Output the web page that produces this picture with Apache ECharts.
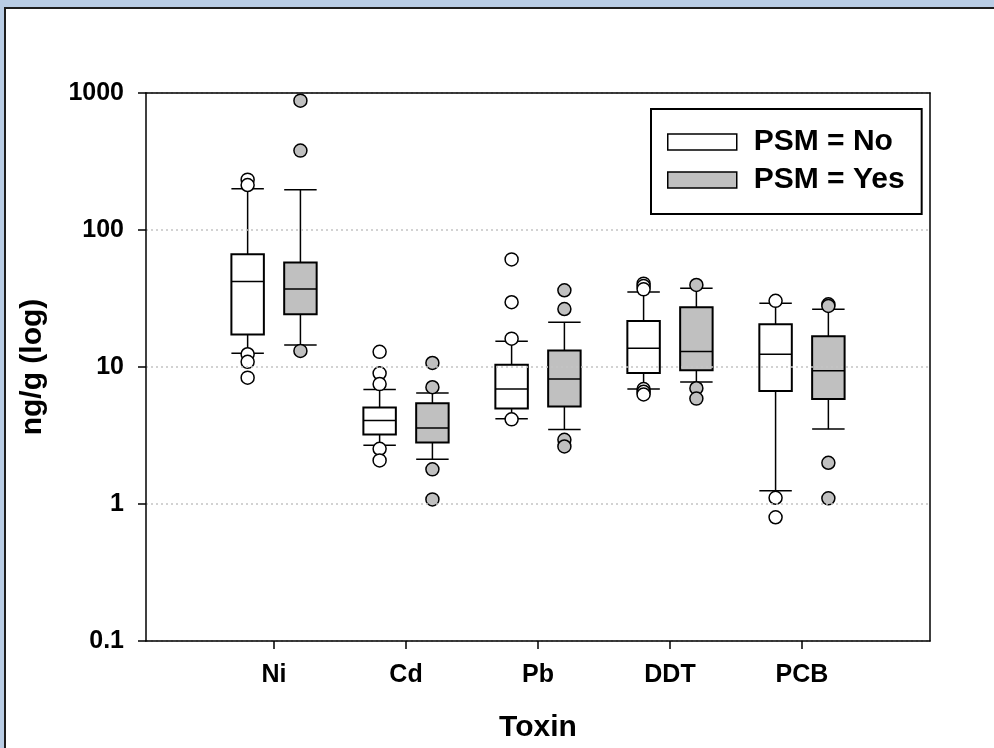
<!DOCTYPE html>
<html>
<head>
<meta charset="utf-8">
<title>Toxin box plot</title>
<script src="https://cdn.jsdelivr.net/npm/echarts@6/dist/echarts.min.js"></script>
<style>
  html, body { margin: 0; padding: 0; background: #b9cde5; overflow: hidden; }
  .frame {
    position: absolute; left: 4px; top: 7px; width: 1000px; height: 760px;
    background: #fff; border-top: 2px solid #1e1e1e; border-left: 2px solid #1e1e1e;
  }
  #chart { position: absolute; left: 0; top: 0; width: 994px; height: 748px; }
</style>
</head>
<body>
<div class="frame"></div>
<div id="chart"></div>
<script>
// categories on the x axis
var categories = ["Ni", "Cd", "Pb", "DDT", "PCB"];
var seriesNames = ["PSM = No", "PSM = Yes"];
var yTicks = [0.1, 1, 10, 100, 1000];

// box stats per toxin: [lower whisker, Q1, median, Q3, upper whisker]
var boxNo = [
  [12.6, 17.3, 42.0, 66.4, 200],
  [2.68, 3.22, 4.07, 5.06, 6.84],
  [4.19, 4.97, 6.92, 10.4, 15.4],
  [6.92, 9.04, 13.7, 21.7, 35.3],
  [1.25, 6.69, 12.4, 20.5, 29.2]
];
var boxYes = [
  [14.5, 24.3, 37.1, 58.0, 197],
  [2.12, 2.81, 3.58, 5.44, 6.47],
  [3.50, 5.14, 8.18, 13.2, 21.2],
  [7.78, 9.46, 13.0, 27.3, 37.5],
  [3.52, 5.85, 9.40, 16.8, 26.4]
];

// outlying points per toxin
var outliersNo = [
  [233, 213, 12.4, 10.9, 8.36],
  [12.9, 9.0, 7.5, 2.53, 2.08],
  [61.0, 29.7, 16.1, 4.15],
  [40.6, 39.0, 36.9, 6.9, 6.6, 6.3],
  [30.4, 1.11, 0.80]
];
var outliersYes = [
  [879, 380, 13.1],
  [10.7, 7.12, 1.79, 1.08],
  [36.3, 26.5, 2.94, 2.63],
  [39.7, 7.0, 5.88],
  [28.7, 27.9, 2.00, 1.10]
];

var FONT = "'Liberation Sans', Arial, sans-serif";
var OFFSET = 0.2;   // half distance between the two boxes, in category units
var HALF = 0.123;   // half box width, in category units
var X_MIN = 0.03, X_MAX = 5.97;

function boxData(stats) {
  return stats.map(function (s, i) { return [i + 1].concat(s); });
}
function pointData(list, shift) {
  var out = [];
  list.forEach(function (vals, i) {
    vals.forEach(function (v) { out.push([i + 1 + shift, v]); });
  });
  return out;
}

function boxRenderer(shift, fill) {
  return function (params, api) {
    var x = api.value(0) + shift;
    var lo = api.coord([x, api.value(1)]);
    var q1 = api.coord([x, api.value(2)]);
    var md = api.coord([x, api.value(3)]);
    var q3 = api.coord([x, api.value(4)]);
    var hi = api.coord([x, api.value(5)]);
    var left = api.coord([x - HALF, api.value(3)])[0];
    var right = api.coord([x + HALF, api.value(3)])[0];
    var thin = { stroke: "#000", lineWidth: 1.5 };
    return {
      type: "group",
      children: [
        { type: "line", shape: { x1: lo[0], y1: lo[1], x2: q1[0], y2: q1[1] }, style: thin },
        { type: "line", shape: { x1: q3[0], y1: q3[1], x2: hi[0], y2: hi[1] }, style: thin },
        { type: "line", shape: { x1: left, y1: lo[1], x2: right, y2: lo[1] }, style: thin },
        { type: "line", shape: { x1: left, y1: hi[1], x2: right, y2: hi[1] }, style: thin },
        {
          type: "rect",
          shape: { x: left, y: q3[1], width: right - left, height: q1[1] - q3[1] },
          style: { fill: fill, stroke: "#000", lineWidth: 2 }
        },
        { type: "line", shape: { x1: left, y1: md[1], x2: right, y2: md[1] }, style: thin }
      ]
    };
  };
}

var axisText = { fontFamily: FONT, fontWeight: "bold", color: "#000" };

var chart = echarts.init(document.getElementById("chart"));
chart.setOption({
  animation: false,
  backgroundColor: "transparent",
  textStyle: axisText,
  grid: { left: 146, right: 64, top: 93, bottom: 105 },
  legend: {
    orient: "vertical",
    left: 651,
    top: 109,
    padding: [18, 17, 19, 16],
    itemGap: 8,
    itemWidth: 69,
    itemHeight: 16,
    borderColor: "#000",
    borderWidth: 2,
    selectedMode: false,
    textStyle: {
      fontFamily: FONT, fontWeight: "bold", fontSize: 30, color: "#000",
      lineHeight: 30, padding: [0, 0, 0, 12]
    },
    data: [
      { name: seriesNames[0], icon: "rect", itemStyle: { color: "#fff", borderColor: "#000", borderWidth: 1.5 } },
      { name: seriesNames[1], icon: "rect", itemStyle: { color: "#c0c0c0", borderColor: "#000", borderWidth: 1.5 } }
    ]
  },
  xAxis: [
    {
      type: "value",
      min: X_MIN,
      max: X_MAX,
      z: 5,
      name: "Toxin",
      nameLocation: "middle",
      nameGap: 72,
      nameTextStyle: { fontFamily: FONT, fontWeight: "bold", fontSize: 30, color: "#000" },
      splitLine: { show: false },
      axisLine: { lineStyle: { color: "#000", width: 1.5 } },
      axisTick: { customValues: [1, 2, 3, 4, 5], length: 8, lineStyle: { color: "#000", width: 1.5 } },
      axisLabel: {
        customValues: [1, 2, 3, 4, 5],
        margin: 22,
        fontFamily: FONT, fontWeight: "bold", fontSize: 25, color: "#000",
        formatter: function (v) { return categories[Math.round(v) - 1] || ""; }
      }
    },
    {
      // top border of the frame
      type: "value",
      position: "top",
      min: X_MIN,
      max: X_MAX,
      z: 5,
      axisLine: { show: true, onZero: false, lineStyle: { color: "#000", width: 1.5 } },
      axisTick: { show: false },
      axisLabel: { show: false },
      splitLine: { show: false }
    }
  ],
  yAxis: [
    {
      type: "log",
      logBase: 10,
      min: yTicks[0],
      max: yTicks[yTicks.length - 1],
      z: 5,
      name: "ng/g (log)",
      nameLocation: "middle",
      nameGap: 98,
      nameTextStyle: { fontFamily: FONT, fontWeight: "bold", fontSize: 30, color: "#000" },
      axisLine: { show: true, lineStyle: { color: "#000", width: 1.5 } },
      axisTick: { show: true, length: 8, lineStyle: { color: "#000", width: 1.5 } },
      minorTick: { show: false },
      splitLine: { show: true, lineStyle: { color: "#c4c4c4", width: 1.5, type: [2, 3] } },
      axisLabel: {
        margin: 22,
        fontFamily: FONT, fontWeight: "bold", fontSize: 25, color: "#000",
        formatter: function (v) { return String(+v.toPrecision(4)); }
      }
    },
    {
      // right border of the frame
      type: "log",
      logBase: 10,
      position: "right",
      min: yTicks[0],
      max: yTicks[yTicks.length - 1],
      z: 5,
      axisLine: { show: true, onZero: false, lineStyle: { color: "#000", width: 1.5 } },
      axisTick: { show: false },
      axisLabel: { show: false },
      splitLine: { show: false }
    }
  ],
  series: [
    {
      name: seriesNames[0],
      type: "custom",
      renderItem: boxRenderer(-OFFSET, "#fff"),
      encode: { x: 0, y: [1, 2, 3, 4, 5] },
      itemStyle: { color: "#fff", borderColor: "#000" },
      data: boxData(boxNo),
      z: 2
    },
    {
      name: seriesNames[1],
      type: "custom",
      renderItem: boxRenderer(OFFSET, "#c0c0c0"),
      encode: { x: 0, y: [1, 2, 3, 4, 5] },
      itemStyle: { color: "#c0c0c0", borderColor: "#000" },
      data: boxData(boxYes),
      z: 2
    },
    {
      name: seriesNames[0],
      type: "scatter",
      symbol: "circle",
      symbolSize: 13,
      itemStyle: { color: "#fff", borderColor: "#000", borderWidth: 1.5, opacity: 1 },
      data: pointData(outliersNo, -OFFSET),
      z: 3
    },
    {
      name: seriesNames[1],
      type: "scatter",
      symbol: "circle",
      symbolSize: 13,
      itemStyle: { color: "#c0c0c0", borderColor: "#000", borderWidth: 1.5, opacity: 1 },
      data: pointData(outliersYes, OFFSET),
      z: 3
    }
  ]
});
</script>
</body>
</html>
